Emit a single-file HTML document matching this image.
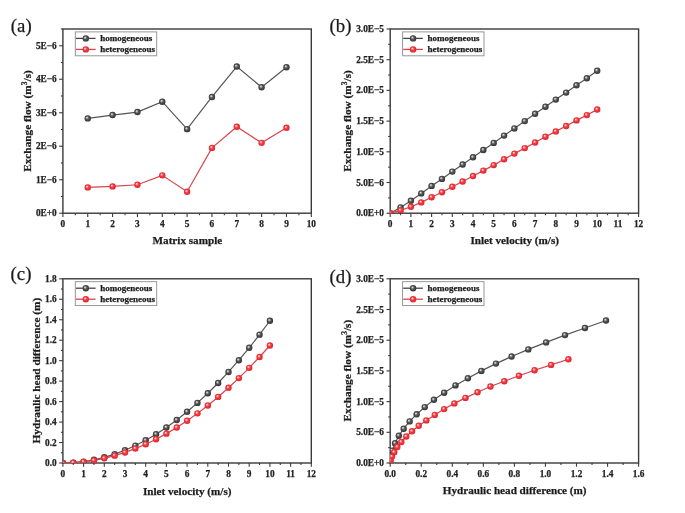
<!DOCTYPE html><html><head><meta charset="utf-8"><style>
html,body{margin:0;padding:0;background:#fff;}
svg{display:block;}
#w{width:685px;height:513px;will-change:transform;}
.tk{font-family:"Liberation Serif",serif;font-weight:bold;stroke:#222;stroke-width:0.25px;font-size:9.3px;fill:#222;}
.ti{font-family:"Liberation Serif",serif;font-weight:bold;stroke:#222;stroke-width:0.25px;font-size:11.15px;fill:#1a1a1a;}
.yti{font-family:"Liberation Serif",serif;font-weight:bold;stroke:#222;stroke-width:0.25px;font-size:11.3px;fill:#1a1a1a;}
.lg{font-family:"Liberation Serif",serif;font-weight:bold;stroke:#222;stroke-width:0.25px;font-size:9.0px;fill:#1a1a1a;}
.pl{font-family:"Liberation Serif",serif;stroke:#1a1a1a;stroke-width:0.25px;font-size:18.8px;fill:#1a1a1a;}
</style></head><body><div id="w">
<svg width="685" height="513" viewBox="0 0 685 513">
<rect width="685" height="513" fill="#fff"/>
<g>
<defs>
<radialGradient id="gk" cx="0.5" cy="0.5" r="0.55" fx="0.36" fy="0.34">
<stop offset="0" stop-color="#f0f0f0"/><stop offset="0.18" stop-color="#b8b8b8"/><stop offset="0.45" stop-color="#585858"/><stop offset="0.8" stop-color="#3c3c3c"/><stop offset="1" stop-color="#2e2e2e"/>
</radialGradient>
<radialGradient id="gr" cx="0.5" cy="0.5" r="0.55" fx="0.36" fy="0.34">
<stop offset="0" stop-color="#fff2ea"/><stop offset="0.18" stop-color="#ffaaa4"/><stop offset="0.45" stop-color="#f23c44"/><stop offset="0.8" stop-color="#e82a32"/><stop offset="1" stop-color="#d61f28"/>
</radialGradient>
</defs>
<defs>
<clipPath id="ca"><rect x="62.9" y="29" width="248.4" height="184.2"/></clipPath>
<clipPath id="cb"><rect x="390.2" y="29" width="248.4" height="184.2"/></clipPath>
<clipPath id="cc"><rect x="62.9" y="278.8" width="248.4" height="184.2"/></clipPath>
<clipPath id="cd"><rect x="390.2" y="278.8" width="248.4" height="184.2"/></clipPath>
</defs>
<line x1="62.9" y1="213.2" x2="62.9" y2="216.9" stroke="#3a3a3a" stroke-width="1.1"/>
<line x1="87.74" y1="213.2" x2="87.74" y2="216.9" stroke="#3a3a3a" stroke-width="1.1"/>
<line x1="112.58" y1="213.2" x2="112.58" y2="216.9" stroke="#3a3a3a" stroke-width="1.1"/>
<line x1="137.42" y1="213.2" x2="137.42" y2="216.9" stroke="#3a3a3a" stroke-width="1.1"/>
<line x1="162.26" y1="213.2" x2="162.26" y2="216.9" stroke="#3a3a3a" stroke-width="1.1"/>
<line x1="187.1" y1="213.2" x2="187.1" y2="216.9" stroke="#3a3a3a" stroke-width="1.1"/>
<line x1="211.94" y1="213.2" x2="211.94" y2="216.9" stroke="#3a3a3a" stroke-width="1.1"/>
<line x1="236.78" y1="213.2" x2="236.78" y2="216.9" stroke="#3a3a3a" stroke-width="1.1"/>
<line x1="261.62" y1="213.2" x2="261.62" y2="216.9" stroke="#3a3a3a" stroke-width="1.1"/>
<line x1="286.46" y1="213.2" x2="286.46" y2="216.9" stroke="#3a3a3a" stroke-width="1.1"/>
<line x1="311.3" y1="213.2" x2="311.3" y2="216.9" stroke="#3a3a3a" stroke-width="1.1"/>
<line x1="75.32" y1="213.2" x2="75.32" y2="215.2" stroke="#3a3a3a" stroke-width="1.1"/>
<line x1="100.16" y1="213.2" x2="100.16" y2="215.2" stroke="#3a3a3a" stroke-width="1.1"/>
<line x1="125" y1="213.2" x2="125" y2="215.2" stroke="#3a3a3a" stroke-width="1.1"/>
<line x1="149.84" y1="213.2" x2="149.84" y2="215.2" stroke="#3a3a3a" stroke-width="1.1"/>
<line x1="174.68" y1="213.2" x2="174.68" y2="215.2" stroke="#3a3a3a" stroke-width="1.1"/>
<line x1="199.52" y1="213.2" x2="199.52" y2="215.2" stroke="#3a3a3a" stroke-width="1.1"/>
<line x1="224.36" y1="213.2" x2="224.36" y2="215.2" stroke="#3a3a3a" stroke-width="1.1"/>
<line x1="249.2" y1="213.2" x2="249.2" y2="215.2" stroke="#3a3a3a" stroke-width="1.1"/>
<line x1="274.04" y1="213.2" x2="274.04" y2="215.2" stroke="#3a3a3a" stroke-width="1.1"/>
<line x1="298.88" y1="213.2" x2="298.88" y2="215.2" stroke="#3a3a3a" stroke-width="1.1"/>
<line x1="59.2" y1="213.2" x2="62.9" y2="213.2" stroke="#3a3a3a" stroke-width="1.1"/>
<line x1="59.2" y1="179.71" x2="62.9" y2="179.71" stroke="#3a3a3a" stroke-width="1.1"/>
<line x1="59.2" y1="146.22" x2="62.9" y2="146.22" stroke="#3a3a3a" stroke-width="1.1"/>
<line x1="59.2" y1="112.73" x2="62.9" y2="112.73" stroke="#3a3a3a" stroke-width="1.1"/>
<line x1="59.2" y1="79.24" x2="62.9" y2="79.24" stroke="#3a3a3a" stroke-width="1.1"/>
<line x1="59.2" y1="45.75" x2="62.9" y2="45.75" stroke="#3a3a3a" stroke-width="1.1"/>
<line x1="60.9" y1="196.45" x2="62.9" y2="196.45" stroke="#3a3a3a" stroke-width="1.1"/>
<line x1="60.9" y1="162.96" x2="62.9" y2="162.96" stroke="#3a3a3a" stroke-width="1.1"/>
<line x1="60.9" y1="129.47" x2="62.9" y2="129.47" stroke="#3a3a3a" stroke-width="1.1"/>
<line x1="60.9" y1="95.98" x2="62.9" y2="95.98" stroke="#3a3a3a" stroke-width="1.1"/>
<line x1="60.9" y1="62.49" x2="62.9" y2="62.49" stroke="#3a3a3a" stroke-width="1.1"/>
<line x1="60.9" y1="29" x2="62.9" y2="29" stroke="#3a3a3a" stroke-width="1.1"/>
<rect x="62.9" y="29" width="248.4" height="184.2" fill="none" stroke="#3a3a3a" stroke-width="1.4"/>
<text x="62.9" y="227.04" class="tk" text-anchor="middle">0</text>
<text x="87.74" y="227.04" class="tk" text-anchor="middle">1</text>
<text x="112.58" y="227.04" class="tk" text-anchor="middle">2</text>
<text x="137.42" y="227.04" class="tk" text-anchor="middle">3</text>
<text x="162.26" y="227.04" class="tk" text-anchor="middle">4</text>
<text x="187.1" y="227.04" class="tk" text-anchor="middle">5</text>
<text x="211.94" y="227.04" class="tk" text-anchor="middle">6</text>
<text x="236.78" y="227.04" class="tk" text-anchor="middle">7</text>
<text x="261.62" y="227.04" class="tk" text-anchor="middle">8</text>
<text x="286.46" y="227.04" class="tk" text-anchor="middle">9</text>
<text x="311.3" y="227.04" class="tk" text-anchor="middle">10</text>
<text x="56.7" y="216.27" class="tk" text-anchor="end">0E+0</text>
<text x="56.7" y="182.78" class="tk" text-anchor="end">1E−6</text>
<text x="56.7" y="149.29" class="tk" text-anchor="end">2E−6</text>
<text x="56.7" y="115.8" class="tk" text-anchor="end">3E−6</text>
<text x="56.7" y="82.31" class="tk" text-anchor="end">4E−6</text>
<text x="56.7" y="48.81" class="tk" text-anchor="end">5E−6</text>
<g clip-path="url(#ca)">
<path d="M87.74,118.42 L112.58,115.07 L137.42,112.06 L162.26,101.68 L187.1,129.14 L211.94,96.99 L236.78,66.51 L261.62,87.27 L286.46,67.18" fill="none" stroke="#555" stroke-width="1.2"/>
<circle cx="87.74" cy="118.42" r="3.2" fill="url(#gk)"/>
<circle cx="112.58" cy="115.07" r="3.2" fill="url(#gk)"/>
<circle cx="137.42" cy="112.06" r="3.2" fill="url(#gk)"/>
<circle cx="162.26" cy="101.68" r="3.2" fill="url(#gk)"/>
<circle cx="187.1" cy="129.14" r="3.2" fill="url(#gk)"/>
<circle cx="211.94" cy="96.99" r="3.2" fill="url(#gk)"/>
<circle cx="236.78" cy="66.51" r="3.2" fill="url(#gk)"/>
<circle cx="261.62" cy="87.27" r="3.2" fill="url(#gk)"/>
<circle cx="286.46" cy="67.18" r="3.2" fill="url(#gk)"/>
</g>
<g clip-path="url(#ca)">
<path d="M87.74,187.41 L112.58,186.41 L137.42,184.73 L162.26,175.36 L187.1,191.77 L211.94,147.89 L236.78,126.79 L261.62,142.87 L286.46,127.8" fill="none" stroke="#d8434b" stroke-width="1.2"/>
<circle cx="87.74" cy="187.41" r="3.2" fill="url(#gr)"/>
<circle cx="112.58" cy="186.41" r="3.2" fill="url(#gr)"/>
<circle cx="137.42" cy="184.73" r="3.2" fill="url(#gr)"/>
<circle cx="162.26" cy="175.36" r="3.2" fill="url(#gr)"/>
<circle cx="187.1" cy="191.77" r="3.2" fill="url(#gr)"/>
<circle cx="211.94" cy="147.89" r="3.2" fill="url(#gr)"/>
<circle cx="236.78" cy="126.79" r="3.2" fill="url(#gr)"/>
<circle cx="261.62" cy="142.87" r="3.2" fill="url(#gr)"/>
<circle cx="286.46" cy="127.8" r="3.2" fill="url(#gr)"/>
</g>
<rect x="75.3" y="31.9" width="81.4" height="23.9" fill="#fff" stroke="#8c8c8c" stroke-width="0.9"/>
<line x1="75.9" y1="38.4" x2="95.6" y2="38.4" stroke="#444" stroke-width="1.3"/>
<circle cx="85.8" cy="38.4" r="3.2" fill="url(#gk)"/>
<text x="100.2" y="41" class="lg">homogeneous</text>
<line x1="75.9" y1="49.4" x2="95.6" y2="49.4" stroke="#d8434b" stroke-width="1.3"/>
<circle cx="85.8" cy="49.4" r="3.2" fill="url(#gr)"/>
<text x="100.2" y="52" class="lg">heterogeneous</text>
<line x1="390.2" y1="213.2" x2="390.2" y2="216.9" stroke="#3a3a3a" stroke-width="1.1"/>
<line x1="410.9" y1="213.2" x2="410.9" y2="216.9" stroke="#3a3a3a" stroke-width="1.1"/>
<line x1="431.6" y1="213.2" x2="431.6" y2="216.9" stroke="#3a3a3a" stroke-width="1.1"/>
<line x1="452.3" y1="213.2" x2="452.3" y2="216.9" stroke="#3a3a3a" stroke-width="1.1"/>
<line x1="473" y1="213.2" x2="473" y2="216.9" stroke="#3a3a3a" stroke-width="1.1"/>
<line x1="493.7" y1="213.2" x2="493.7" y2="216.9" stroke="#3a3a3a" stroke-width="1.1"/>
<line x1="514.4" y1="213.2" x2="514.4" y2="216.9" stroke="#3a3a3a" stroke-width="1.1"/>
<line x1="535.1" y1="213.2" x2="535.1" y2="216.9" stroke="#3a3a3a" stroke-width="1.1"/>
<line x1="555.8" y1="213.2" x2="555.8" y2="216.9" stroke="#3a3a3a" stroke-width="1.1"/>
<line x1="576.5" y1="213.2" x2="576.5" y2="216.9" stroke="#3a3a3a" stroke-width="1.1"/>
<line x1="597.2" y1="213.2" x2="597.2" y2="216.9" stroke="#3a3a3a" stroke-width="1.1"/>
<line x1="617.9" y1="213.2" x2="617.9" y2="216.9" stroke="#3a3a3a" stroke-width="1.1"/>
<line x1="638.6" y1="213.2" x2="638.6" y2="216.9" stroke="#3a3a3a" stroke-width="1.1"/>
<line x1="400.55" y1="213.2" x2="400.55" y2="215.2" stroke="#3a3a3a" stroke-width="1.1"/>
<line x1="421.25" y1="213.2" x2="421.25" y2="215.2" stroke="#3a3a3a" stroke-width="1.1"/>
<line x1="441.95" y1="213.2" x2="441.95" y2="215.2" stroke="#3a3a3a" stroke-width="1.1"/>
<line x1="462.65" y1="213.2" x2="462.65" y2="215.2" stroke="#3a3a3a" stroke-width="1.1"/>
<line x1="483.35" y1="213.2" x2="483.35" y2="215.2" stroke="#3a3a3a" stroke-width="1.1"/>
<line x1="504.05" y1="213.2" x2="504.05" y2="215.2" stroke="#3a3a3a" stroke-width="1.1"/>
<line x1="524.75" y1="213.2" x2="524.75" y2="215.2" stroke="#3a3a3a" stroke-width="1.1"/>
<line x1="545.45" y1="213.2" x2="545.45" y2="215.2" stroke="#3a3a3a" stroke-width="1.1"/>
<line x1="566.15" y1="213.2" x2="566.15" y2="215.2" stroke="#3a3a3a" stroke-width="1.1"/>
<line x1="586.85" y1="213.2" x2="586.85" y2="215.2" stroke="#3a3a3a" stroke-width="1.1"/>
<line x1="607.55" y1="213.2" x2="607.55" y2="215.2" stroke="#3a3a3a" stroke-width="1.1"/>
<line x1="628.25" y1="213.2" x2="628.25" y2="215.2" stroke="#3a3a3a" stroke-width="1.1"/>
<line x1="386.5" y1="213.2" x2="390.2" y2="213.2" stroke="#3a3a3a" stroke-width="1.1"/>
<line x1="386.5" y1="182.5" x2="390.2" y2="182.5" stroke="#3a3a3a" stroke-width="1.1"/>
<line x1="386.5" y1="151.8" x2="390.2" y2="151.8" stroke="#3a3a3a" stroke-width="1.1"/>
<line x1="386.5" y1="121.1" x2="390.2" y2="121.1" stroke="#3a3a3a" stroke-width="1.1"/>
<line x1="386.5" y1="90.4" x2="390.2" y2="90.4" stroke="#3a3a3a" stroke-width="1.1"/>
<line x1="386.5" y1="59.7" x2="390.2" y2="59.7" stroke="#3a3a3a" stroke-width="1.1"/>
<line x1="386.5" y1="29" x2="390.2" y2="29" stroke="#3a3a3a" stroke-width="1.1"/>
<line x1="388.2" y1="197.85" x2="390.2" y2="197.85" stroke="#3a3a3a" stroke-width="1.1"/>
<line x1="388.2" y1="167.15" x2="390.2" y2="167.15" stroke="#3a3a3a" stroke-width="1.1"/>
<line x1="388.2" y1="136.45" x2="390.2" y2="136.45" stroke="#3a3a3a" stroke-width="1.1"/>
<line x1="388.2" y1="105.75" x2="390.2" y2="105.75" stroke="#3a3a3a" stroke-width="1.1"/>
<line x1="388.2" y1="75.05" x2="390.2" y2="75.05" stroke="#3a3a3a" stroke-width="1.1"/>
<line x1="388.2" y1="44.35" x2="390.2" y2="44.35" stroke="#3a3a3a" stroke-width="1.1"/>
<rect x="390.2" y="29" width="248.4" height="184.2" fill="none" stroke="#3a3a3a" stroke-width="1.4"/>
<text x="390.2" y="227.04" class="tk" text-anchor="middle">0</text>
<text x="410.9" y="227.04" class="tk" text-anchor="middle">1</text>
<text x="431.6" y="227.04" class="tk" text-anchor="middle">2</text>
<text x="452.3" y="227.04" class="tk" text-anchor="middle">3</text>
<text x="473" y="227.04" class="tk" text-anchor="middle">4</text>
<text x="493.7" y="227.04" class="tk" text-anchor="middle">5</text>
<text x="514.4" y="227.04" class="tk" text-anchor="middle">6</text>
<text x="535.1" y="227.04" class="tk" text-anchor="middle">7</text>
<text x="555.8" y="227.04" class="tk" text-anchor="middle">8</text>
<text x="576.5" y="227.04" class="tk" text-anchor="middle">9</text>
<text x="597.2" y="227.04" class="tk" text-anchor="middle">10</text>
<text x="617.9" y="227.04" class="tk" text-anchor="middle">11</text>
<text x="638.6" y="227.04" class="tk" text-anchor="middle">12</text>
<text x="384" y="216.27" class="tk" text-anchor="end">0.0E+0</text>
<text x="384" y="185.57" class="tk" text-anchor="end">5.0E−6</text>
<text x="384" y="154.87" class="tk" text-anchor="end">1.0E−5</text>
<text x="384" y="124.17" class="tk" text-anchor="end">1.5E−5</text>
<text x="384" y="93.47" class="tk" text-anchor="end">2.0E−5</text>
<text x="384" y="62.77" class="tk" text-anchor="end">2.5E−5</text>
<text x="384" y="32.07" class="tk" text-anchor="end">3.0E−5</text>
<g clip-path="url(#cb)">
<path d="M390.2,213.2 L400.55,207.4 L410.9,200.8 L421.25,193.4 L431.6,185.9 L441.95,178.9 L452.3,171.6 L462.65,164.5 L473,157.3 L483.35,150 L493.7,142.9 L504.05,135.6 L514.4,128.4 L524.75,121.1 L535.1,113.8 L545.45,106.7 L555.8,99.6 L566.15,92.6 L576.5,85.3 L586.85,78.2 L597.2,70.7" fill="none" stroke="#555" stroke-width="1.2"/>
<circle cx="390.2" cy="213.2" r="3.2" fill="url(#gk)"/>
<circle cx="400.55" cy="207.4" r="3.2" fill="url(#gk)"/>
<circle cx="410.9" cy="200.8" r="3.2" fill="url(#gk)"/>
<circle cx="421.25" cy="193.4" r="3.2" fill="url(#gk)"/>
<circle cx="431.6" cy="185.9" r="3.2" fill="url(#gk)"/>
<circle cx="441.95" cy="178.9" r="3.2" fill="url(#gk)"/>
<circle cx="452.3" cy="171.6" r="3.2" fill="url(#gk)"/>
<circle cx="462.65" cy="164.5" r="3.2" fill="url(#gk)"/>
<circle cx="473" cy="157.3" r="3.2" fill="url(#gk)"/>
<circle cx="483.35" cy="150" r="3.2" fill="url(#gk)"/>
<circle cx="493.7" cy="142.9" r="3.2" fill="url(#gk)"/>
<circle cx="504.05" cy="135.6" r="3.2" fill="url(#gk)"/>
<circle cx="514.4" cy="128.4" r="3.2" fill="url(#gk)"/>
<circle cx="524.75" cy="121.1" r="3.2" fill="url(#gk)"/>
<circle cx="535.1" cy="113.8" r="3.2" fill="url(#gk)"/>
<circle cx="545.45" cy="106.7" r="3.2" fill="url(#gk)"/>
<circle cx="555.8" cy="99.6" r="3.2" fill="url(#gk)"/>
<circle cx="566.15" cy="92.6" r="3.2" fill="url(#gk)"/>
<circle cx="576.5" cy="85.3" r="3.2" fill="url(#gk)"/>
<circle cx="586.85" cy="78.2" r="3.2" fill="url(#gk)"/>
<circle cx="597.2" cy="70.7" r="3.2" fill="url(#gk)"/>
</g>
<g clip-path="url(#cb)">
<path d="M390.2,213.2 L400.55,210.4 L410.9,206.8 L421.25,202.4 L431.6,197.2 L441.95,192.2 L452.3,186.7 L462.65,181.5 L473,176 L483.35,170.6 L493.7,165.1 L504.05,159.3 L514.4,153.6 L524.75,148.1 L535.1,142.5 L545.45,136.7 L555.8,131.4 L566.15,126 L576.5,120.4 L586.85,115.1 L597.2,109.5" fill="none" stroke="#d8434b" stroke-width="1.2"/>
<circle cx="390.2" cy="213.2" r="3.2" fill="url(#gr)"/>
<circle cx="400.55" cy="210.4" r="3.2" fill="url(#gr)"/>
<circle cx="410.9" cy="206.8" r="3.2" fill="url(#gr)"/>
<circle cx="421.25" cy="202.4" r="3.2" fill="url(#gr)"/>
<circle cx="431.6" cy="197.2" r="3.2" fill="url(#gr)"/>
<circle cx="441.95" cy="192.2" r="3.2" fill="url(#gr)"/>
<circle cx="452.3" cy="186.7" r="3.2" fill="url(#gr)"/>
<circle cx="462.65" cy="181.5" r="3.2" fill="url(#gr)"/>
<circle cx="473" cy="176" r="3.2" fill="url(#gr)"/>
<circle cx="483.35" cy="170.6" r="3.2" fill="url(#gr)"/>
<circle cx="493.7" cy="165.1" r="3.2" fill="url(#gr)"/>
<circle cx="504.05" cy="159.3" r="3.2" fill="url(#gr)"/>
<circle cx="514.4" cy="153.6" r="3.2" fill="url(#gr)"/>
<circle cx="524.75" cy="148.1" r="3.2" fill="url(#gr)"/>
<circle cx="535.1" cy="142.5" r="3.2" fill="url(#gr)"/>
<circle cx="545.45" cy="136.7" r="3.2" fill="url(#gr)"/>
<circle cx="555.8" cy="131.4" r="3.2" fill="url(#gr)"/>
<circle cx="566.15" cy="126" r="3.2" fill="url(#gr)"/>
<circle cx="576.5" cy="120.4" r="3.2" fill="url(#gr)"/>
<circle cx="586.85" cy="115.1" r="3.2" fill="url(#gr)"/>
<circle cx="597.2" cy="109.5" r="3.2" fill="url(#gr)"/>
</g>
<rect x="402.6" y="31.9" width="81.4" height="23.9" fill="#fff" stroke="#8c8c8c" stroke-width="0.9"/>
<line x1="403.2" y1="38.4" x2="422.9" y2="38.4" stroke="#444" stroke-width="1.3"/>
<circle cx="413.1" cy="38.4" r="3.2" fill="url(#gk)"/>
<text x="427.5" y="41" class="lg">homogeneous</text>
<line x1="403.2" y1="49.4" x2="422.9" y2="49.4" stroke="#d8434b" stroke-width="1.3"/>
<circle cx="413.1" cy="49.4" r="3.2" fill="url(#gr)"/>
<text x="427.5" y="52" class="lg">heterogeneous</text>
<line x1="62.9" y1="463" x2="62.9" y2="466.7" stroke="#3a3a3a" stroke-width="1.1"/>
<line x1="83.6" y1="463" x2="83.6" y2="466.7" stroke="#3a3a3a" stroke-width="1.1"/>
<line x1="104.3" y1="463" x2="104.3" y2="466.7" stroke="#3a3a3a" stroke-width="1.1"/>
<line x1="125" y1="463" x2="125" y2="466.7" stroke="#3a3a3a" stroke-width="1.1"/>
<line x1="145.7" y1="463" x2="145.7" y2="466.7" stroke="#3a3a3a" stroke-width="1.1"/>
<line x1="166.4" y1="463" x2="166.4" y2="466.7" stroke="#3a3a3a" stroke-width="1.1"/>
<line x1="187.1" y1="463" x2="187.1" y2="466.7" stroke="#3a3a3a" stroke-width="1.1"/>
<line x1="207.8" y1="463" x2="207.8" y2="466.7" stroke="#3a3a3a" stroke-width="1.1"/>
<line x1="228.5" y1="463" x2="228.5" y2="466.7" stroke="#3a3a3a" stroke-width="1.1"/>
<line x1="249.2" y1="463" x2="249.2" y2="466.7" stroke="#3a3a3a" stroke-width="1.1"/>
<line x1="269.9" y1="463" x2="269.9" y2="466.7" stroke="#3a3a3a" stroke-width="1.1"/>
<line x1="290.6" y1="463" x2="290.6" y2="466.7" stroke="#3a3a3a" stroke-width="1.1"/>
<line x1="311.3" y1="463" x2="311.3" y2="466.7" stroke="#3a3a3a" stroke-width="1.1"/>
<line x1="73.25" y1="463" x2="73.25" y2="465" stroke="#3a3a3a" stroke-width="1.1"/>
<line x1="93.95" y1="463" x2="93.95" y2="465" stroke="#3a3a3a" stroke-width="1.1"/>
<line x1="114.65" y1="463" x2="114.65" y2="465" stroke="#3a3a3a" stroke-width="1.1"/>
<line x1="135.35" y1="463" x2="135.35" y2="465" stroke="#3a3a3a" stroke-width="1.1"/>
<line x1="156.05" y1="463" x2="156.05" y2="465" stroke="#3a3a3a" stroke-width="1.1"/>
<line x1="176.75" y1="463" x2="176.75" y2="465" stroke="#3a3a3a" stroke-width="1.1"/>
<line x1="197.45" y1="463" x2="197.45" y2="465" stroke="#3a3a3a" stroke-width="1.1"/>
<line x1="218.15" y1="463" x2="218.15" y2="465" stroke="#3a3a3a" stroke-width="1.1"/>
<line x1="238.85" y1="463" x2="238.85" y2="465" stroke="#3a3a3a" stroke-width="1.1"/>
<line x1="259.55" y1="463" x2="259.55" y2="465" stroke="#3a3a3a" stroke-width="1.1"/>
<line x1="280.25" y1="463" x2="280.25" y2="465" stroke="#3a3a3a" stroke-width="1.1"/>
<line x1="300.95" y1="463" x2="300.95" y2="465" stroke="#3a3a3a" stroke-width="1.1"/>
<line x1="59.2" y1="463" x2="62.9" y2="463" stroke="#3a3a3a" stroke-width="1.1"/>
<line x1="59.2" y1="442.53" x2="62.9" y2="442.53" stroke="#3a3a3a" stroke-width="1.1"/>
<line x1="59.2" y1="422.07" x2="62.9" y2="422.07" stroke="#3a3a3a" stroke-width="1.1"/>
<line x1="59.2" y1="401.6" x2="62.9" y2="401.6" stroke="#3a3a3a" stroke-width="1.1"/>
<line x1="59.2" y1="381.13" x2="62.9" y2="381.13" stroke="#3a3a3a" stroke-width="1.1"/>
<line x1="59.2" y1="360.67" x2="62.9" y2="360.67" stroke="#3a3a3a" stroke-width="1.1"/>
<line x1="59.2" y1="340.2" x2="62.9" y2="340.2" stroke="#3a3a3a" stroke-width="1.1"/>
<line x1="59.2" y1="319.73" x2="62.9" y2="319.73" stroke="#3a3a3a" stroke-width="1.1"/>
<line x1="59.2" y1="299.27" x2="62.9" y2="299.27" stroke="#3a3a3a" stroke-width="1.1"/>
<line x1="59.2" y1="278.8" x2="62.9" y2="278.8" stroke="#3a3a3a" stroke-width="1.1"/>
<line x1="60.9" y1="452.77" x2="62.9" y2="452.77" stroke="#3a3a3a" stroke-width="1.1"/>
<line x1="60.9" y1="432.3" x2="62.9" y2="432.3" stroke="#3a3a3a" stroke-width="1.1"/>
<line x1="60.9" y1="411.83" x2="62.9" y2="411.83" stroke="#3a3a3a" stroke-width="1.1"/>
<line x1="60.9" y1="391.37" x2="62.9" y2="391.37" stroke="#3a3a3a" stroke-width="1.1"/>
<line x1="60.9" y1="370.9" x2="62.9" y2="370.9" stroke="#3a3a3a" stroke-width="1.1"/>
<line x1="60.9" y1="350.43" x2="62.9" y2="350.43" stroke="#3a3a3a" stroke-width="1.1"/>
<line x1="60.9" y1="329.97" x2="62.9" y2="329.97" stroke="#3a3a3a" stroke-width="1.1"/>
<line x1="60.9" y1="309.5" x2="62.9" y2="309.5" stroke="#3a3a3a" stroke-width="1.1"/>
<line x1="60.9" y1="289.03" x2="62.9" y2="289.03" stroke="#3a3a3a" stroke-width="1.1"/>
<rect x="62.9" y="278.8" width="248.4" height="184.2" fill="none" stroke="#3a3a3a" stroke-width="1.4"/>
<text x="62.9" y="476.84" class="tk" text-anchor="middle">0</text>
<text x="83.6" y="476.84" class="tk" text-anchor="middle">1</text>
<text x="104.3" y="476.84" class="tk" text-anchor="middle">2</text>
<text x="125" y="476.84" class="tk" text-anchor="middle">3</text>
<text x="145.7" y="476.84" class="tk" text-anchor="middle">4</text>
<text x="166.4" y="476.84" class="tk" text-anchor="middle">5</text>
<text x="187.1" y="476.84" class="tk" text-anchor="middle">6</text>
<text x="207.8" y="476.84" class="tk" text-anchor="middle">7</text>
<text x="228.5" y="476.84" class="tk" text-anchor="middle">8</text>
<text x="249.2" y="476.84" class="tk" text-anchor="middle">9</text>
<text x="269.9" y="476.84" class="tk" text-anchor="middle">10</text>
<text x="290.6" y="476.84" class="tk" text-anchor="middle">11</text>
<text x="311.3" y="476.84" class="tk" text-anchor="middle">12</text>
<text x="56.7" y="466.07" class="tk" text-anchor="end">0.0</text>
<text x="56.7" y="445.6" class="tk" text-anchor="end">0.2</text>
<text x="56.7" y="425.14" class="tk" text-anchor="end">0.4</text>
<text x="56.7" y="404.67" class="tk" text-anchor="end">0.6</text>
<text x="56.7" y="384.2" class="tk" text-anchor="end">0.8</text>
<text x="56.7" y="363.74" class="tk" text-anchor="end">1.0</text>
<text x="56.7" y="343.27" class="tk" text-anchor="end">1.2</text>
<text x="56.7" y="322.8" class="tk" text-anchor="end">1.4</text>
<text x="56.7" y="302.34" class="tk" text-anchor="end">1.6</text>
<text x="56.7" y="281.87" class="tk" text-anchor="end">1.8</text>
<g clip-path="url(#cc)">
<path d="M62.9,463 L73.25,462.64 L83.6,461.58 L93.95,459.8 L104.3,457.31 L114.65,454.11 L125,450.2 L135.35,445.58 L145.7,440.24 L156.05,434.2 L166.4,427.44 L176.75,419.97 L187.1,411.79 L197.45,402.9 L207.8,393.3 L218.15,382.99 L228.5,371.96 L238.85,360.23 L249.2,347.78 L259.55,334.63 L269.9,320.76" fill="none" stroke="#555" stroke-width="1.2"/>
<circle cx="62.9" cy="463" r="3.2" fill="url(#gk)"/>
<circle cx="73.25" cy="462.64" r="3.2" fill="url(#gk)"/>
<circle cx="83.6" cy="461.58" r="3.2" fill="url(#gk)"/>
<circle cx="93.95" cy="459.8" r="3.2" fill="url(#gk)"/>
<circle cx="104.3" cy="457.31" r="3.2" fill="url(#gk)"/>
<circle cx="114.65" cy="454.11" r="3.2" fill="url(#gk)"/>
<circle cx="125" cy="450.2" r="3.2" fill="url(#gk)"/>
<circle cx="135.35" cy="445.58" r="3.2" fill="url(#gk)"/>
<circle cx="145.7" cy="440.24" r="3.2" fill="url(#gk)"/>
<circle cx="156.05" cy="434.2" r="3.2" fill="url(#gk)"/>
<circle cx="166.4" cy="427.44" r="3.2" fill="url(#gk)"/>
<circle cx="176.75" cy="419.97" r="3.2" fill="url(#gk)"/>
<circle cx="187.1" cy="411.79" r="3.2" fill="url(#gk)"/>
<circle cx="197.45" cy="402.9" r="3.2" fill="url(#gk)"/>
<circle cx="207.8" cy="393.3" r="3.2" fill="url(#gk)"/>
<circle cx="218.15" cy="382.99" r="3.2" fill="url(#gk)"/>
<circle cx="228.5" cy="371.96" r="3.2" fill="url(#gk)"/>
<circle cx="238.85" cy="360.23" r="3.2" fill="url(#gk)"/>
<circle cx="249.2" cy="347.78" r="3.2" fill="url(#gk)"/>
<circle cx="259.55" cy="334.63" r="3.2" fill="url(#gk)"/>
<circle cx="269.9" cy="320.76" r="3.2" fill="url(#gk)"/>
</g>
<g clip-path="url(#cc)">
<path d="M62.9,463 L73.25,462.71 L83.6,461.83 L93.95,460.36 L104.3,458.3 L114.65,455.66 L125,452.43 L135.35,448.61 L145.7,444.2 L156.05,439.21 L166.4,433.63 L176.75,427.46 L187.1,420.71 L197.45,413.37 L207.8,405.44 L218.15,396.92 L228.5,387.81 L238.85,378.12 L249.2,367.84 L259.55,356.98 L269.9,345.52" fill="none" stroke="#d8434b" stroke-width="1.2"/>
<circle cx="62.9" cy="463" r="3.2" fill="url(#gr)"/>
<circle cx="73.25" cy="462.71" r="3.2" fill="url(#gr)"/>
<circle cx="83.6" cy="461.83" r="3.2" fill="url(#gr)"/>
<circle cx="93.95" cy="460.36" r="3.2" fill="url(#gr)"/>
<circle cx="104.3" cy="458.3" r="3.2" fill="url(#gr)"/>
<circle cx="114.65" cy="455.66" r="3.2" fill="url(#gr)"/>
<circle cx="125" cy="452.43" r="3.2" fill="url(#gr)"/>
<circle cx="135.35" cy="448.61" r="3.2" fill="url(#gr)"/>
<circle cx="145.7" cy="444.2" r="3.2" fill="url(#gr)"/>
<circle cx="156.05" cy="439.21" r="3.2" fill="url(#gr)"/>
<circle cx="166.4" cy="433.63" r="3.2" fill="url(#gr)"/>
<circle cx="176.75" cy="427.46" r="3.2" fill="url(#gr)"/>
<circle cx="187.1" cy="420.71" r="3.2" fill="url(#gr)"/>
<circle cx="197.45" cy="413.37" r="3.2" fill="url(#gr)"/>
<circle cx="207.8" cy="405.44" r="3.2" fill="url(#gr)"/>
<circle cx="218.15" cy="396.92" r="3.2" fill="url(#gr)"/>
<circle cx="228.5" cy="387.81" r="3.2" fill="url(#gr)"/>
<circle cx="238.85" cy="378.12" r="3.2" fill="url(#gr)"/>
<circle cx="249.2" cy="367.84" r="3.2" fill="url(#gr)"/>
<circle cx="259.55" cy="356.98" r="3.2" fill="url(#gr)"/>
<circle cx="269.9" cy="345.52" r="3.2" fill="url(#gr)"/>
</g>
<rect x="75.3" y="281.7" width="81.4" height="23.9" fill="#fff" stroke="#8c8c8c" stroke-width="0.9"/>
<line x1="75.9" y1="288.2" x2="95.6" y2="288.2" stroke="#444" stroke-width="1.3"/>
<circle cx="85.8" cy="288.2" r="3.2" fill="url(#gk)"/>
<text x="100.2" y="290.8" class="lg">homogeneous</text>
<line x1="75.9" y1="299.2" x2="95.6" y2="299.2" stroke="#d8434b" stroke-width="1.3"/>
<circle cx="85.8" cy="299.2" r="3.2" fill="url(#gr)"/>
<text x="100.2" y="301.8" class="lg">heterogeneous</text>
<line x1="390.2" y1="463" x2="390.2" y2="466.7" stroke="#3a3a3a" stroke-width="1.1"/>
<line x1="421.25" y1="463" x2="421.25" y2="466.7" stroke="#3a3a3a" stroke-width="1.1"/>
<line x1="452.3" y1="463" x2="452.3" y2="466.7" stroke="#3a3a3a" stroke-width="1.1"/>
<line x1="483.35" y1="463" x2="483.35" y2="466.7" stroke="#3a3a3a" stroke-width="1.1"/>
<line x1="514.4" y1="463" x2="514.4" y2="466.7" stroke="#3a3a3a" stroke-width="1.1"/>
<line x1="545.45" y1="463" x2="545.45" y2="466.7" stroke="#3a3a3a" stroke-width="1.1"/>
<line x1="576.5" y1="463" x2="576.5" y2="466.7" stroke="#3a3a3a" stroke-width="1.1"/>
<line x1="607.55" y1="463" x2="607.55" y2="466.7" stroke="#3a3a3a" stroke-width="1.1"/>
<line x1="638.6" y1="463" x2="638.6" y2="466.7" stroke="#3a3a3a" stroke-width="1.1"/>
<line x1="405.72" y1="463" x2="405.72" y2="465" stroke="#3a3a3a" stroke-width="1.1"/>
<line x1="436.77" y1="463" x2="436.77" y2="465" stroke="#3a3a3a" stroke-width="1.1"/>
<line x1="467.82" y1="463" x2="467.82" y2="465" stroke="#3a3a3a" stroke-width="1.1"/>
<line x1="498.88" y1="463" x2="498.88" y2="465" stroke="#3a3a3a" stroke-width="1.1"/>
<line x1="529.92" y1="463" x2="529.92" y2="465" stroke="#3a3a3a" stroke-width="1.1"/>
<line x1="560.98" y1="463" x2="560.98" y2="465" stroke="#3a3a3a" stroke-width="1.1"/>
<line x1="592.02" y1="463" x2="592.02" y2="465" stroke="#3a3a3a" stroke-width="1.1"/>
<line x1="623.08" y1="463" x2="623.08" y2="465" stroke="#3a3a3a" stroke-width="1.1"/>
<line x1="386.5" y1="463" x2="390.2" y2="463" stroke="#3a3a3a" stroke-width="1.1"/>
<line x1="386.5" y1="432.3" x2="390.2" y2="432.3" stroke="#3a3a3a" stroke-width="1.1"/>
<line x1="386.5" y1="401.6" x2="390.2" y2="401.6" stroke="#3a3a3a" stroke-width="1.1"/>
<line x1="386.5" y1="370.9" x2="390.2" y2="370.9" stroke="#3a3a3a" stroke-width="1.1"/>
<line x1="386.5" y1="340.2" x2="390.2" y2="340.2" stroke="#3a3a3a" stroke-width="1.1"/>
<line x1="386.5" y1="309.5" x2="390.2" y2="309.5" stroke="#3a3a3a" stroke-width="1.1"/>
<line x1="386.5" y1="278.8" x2="390.2" y2="278.8" stroke="#3a3a3a" stroke-width="1.1"/>
<line x1="388.2" y1="447.65" x2="390.2" y2="447.65" stroke="#3a3a3a" stroke-width="1.1"/>
<line x1="388.2" y1="416.95" x2="390.2" y2="416.95" stroke="#3a3a3a" stroke-width="1.1"/>
<line x1="388.2" y1="386.25" x2="390.2" y2="386.25" stroke="#3a3a3a" stroke-width="1.1"/>
<line x1="388.2" y1="355.55" x2="390.2" y2="355.55" stroke="#3a3a3a" stroke-width="1.1"/>
<line x1="388.2" y1="324.85" x2="390.2" y2="324.85" stroke="#3a3a3a" stroke-width="1.1"/>
<line x1="388.2" y1="294.15" x2="390.2" y2="294.15" stroke="#3a3a3a" stroke-width="1.1"/>
<rect x="390.2" y="278.8" width="248.4" height="184.2" fill="none" stroke="#3a3a3a" stroke-width="1.4"/>
<text x="390.2" y="476.84" class="tk" text-anchor="middle">0.0</text>
<text x="421.25" y="476.84" class="tk" text-anchor="middle">0.2</text>
<text x="452.3" y="476.84" class="tk" text-anchor="middle">0.4</text>
<text x="483.35" y="476.84" class="tk" text-anchor="middle">0.6</text>
<text x="514.4" y="476.84" class="tk" text-anchor="middle">0.8</text>
<text x="545.45" y="476.84" class="tk" text-anchor="middle">1.0</text>
<text x="576.5" y="476.84" class="tk" text-anchor="middle">1.2</text>
<text x="607.55" y="476.84" class="tk" text-anchor="middle">1.4</text>
<text x="638.6" y="476.84" class="tk" text-anchor="middle">1.6</text>
<text x="384" y="466.07" class="tk" text-anchor="end">0.0E+0</text>
<text x="384" y="435.37" class="tk" text-anchor="end">5.0E−6</text>
<text x="384" y="404.67" class="tk" text-anchor="end">1.0E−5</text>
<text x="384" y="373.97" class="tk" text-anchor="end">1.5E−5</text>
<text x="384" y="343.27" class="tk" text-anchor="end">2.0E−5</text>
<text x="384" y="312.57" class="tk" text-anchor="end">2.5E−5</text>
<text x="384" y="281.87" class="tk" text-anchor="end">3.0E−5</text>
<g clip-path="url(#cd)">
<path d="M390.2,463 L390.74,457.2 L392.36,450.6 L395.06,443.2 L398.83,435.7 L403.69,428.7 L409.62,421.4 L416.64,414.3 L424.73,407.1 L433.9,399.8 L444.15,392.7 L455.48,385.4 L467.89,378.2 L481.37,370.9 L495.94,363.6 L511.59,356.5 L528.31,349.4 L546.11,342.4 L565,335.1 L584.96,328 L606,320.5" fill="none" stroke="#555" stroke-width="1.2"/>
<circle cx="390.2" cy="463" r="3.2" fill="url(#gk)"/>
<circle cx="390.74" cy="457.2" r="3.2" fill="url(#gk)"/>
<circle cx="392.36" cy="450.6" r="3.2" fill="url(#gk)"/>
<circle cx="395.06" cy="443.2" r="3.2" fill="url(#gk)"/>
<circle cx="398.83" cy="435.7" r="3.2" fill="url(#gk)"/>
<circle cx="403.69" cy="428.7" r="3.2" fill="url(#gk)"/>
<circle cx="409.62" cy="421.4" r="3.2" fill="url(#gk)"/>
<circle cx="416.64" cy="414.3" r="3.2" fill="url(#gk)"/>
<circle cx="424.73" cy="407.1" r="3.2" fill="url(#gk)"/>
<circle cx="433.9" cy="399.8" r="3.2" fill="url(#gk)"/>
<circle cx="444.15" cy="392.7" r="3.2" fill="url(#gk)"/>
<circle cx="455.48" cy="385.4" r="3.2" fill="url(#gk)"/>
<circle cx="467.89" cy="378.2" r="3.2" fill="url(#gk)"/>
<circle cx="481.37" cy="370.9" r="3.2" fill="url(#gk)"/>
<circle cx="495.94" cy="363.6" r="3.2" fill="url(#gk)"/>
<circle cx="511.59" cy="356.5" r="3.2" fill="url(#gk)"/>
<circle cx="528.31" cy="349.4" r="3.2" fill="url(#gk)"/>
<circle cx="546.11" cy="342.4" r="3.2" fill="url(#gk)"/>
<circle cx="565" cy="335.1" r="3.2" fill="url(#gk)"/>
<circle cx="584.96" cy="328" r="3.2" fill="url(#gk)"/>
<circle cx="606" cy="320.5" r="3.2" fill="url(#gk)"/>
</g>
<g clip-path="url(#cd)">
<path d="M390.2,463 L390.65,460.2 L391.98,456.6 L394.21,452.2 L397.33,447 L401.34,442 L406.24,436.5 L412.03,431.3 L418.72,425.8 L426.29,420.4 L434.76,414.9 L444.11,409.1 L454.36,403.4 L465.5,397.9 L477.53,392.3 L490.45,386.5 L504.27,381.2 L518.97,375.8 L534.56,370.2 L551.05,364.9 L568.43,359.3" fill="none" stroke="#d8434b" stroke-width="1.2"/>
<circle cx="390.2" cy="463" r="3.2" fill="url(#gr)"/>
<circle cx="390.65" cy="460.2" r="3.2" fill="url(#gr)"/>
<circle cx="391.98" cy="456.6" r="3.2" fill="url(#gr)"/>
<circle cx="394.21" cy="452.2" r="3.2" fill="url(#gr)"/>
<circle cx="397.33" cy="447" r="3.2" fill="url(#gr)"/>
<circle cx="401.34" cy="442" r="3.2" fill="url(#gr)"/>
<circle cx="406.24" cy="436.5" r="3.2" fill="url(#gr)"/>
<circle cx="412.03" cy="431.3" r="3.2" fill="url(#gr)"/>
<circle cx="418.72" cy="425.8" r="3.2" fill="url(#gr)"/>
<circle cx="426.29" cy="420.4" r="3.2" fill="url(#gr)"/>
<circle cx="434.76" cy="414.9" r="3.2" fill="url(#gr)"/>
<circle cx="444.11" cy="409.1" r="3.2" fill="url(#gr)"/>
<circle cx="454.36" cy="403.4" r="3.2" fill="url(#gr)"/>
<circle cx="465.5" cy="397.9" r="3.2" fill="url(#gr)"/>
<circle cx="477.53" cy="392.3" r="3.2" fill="url(#gr)"/>
<circle cx="490.45" cy="386.5" r="3.2" fill="url(#gr)"/>
<circle cx="504.27" cy="381.2" r="3.2" fill="url(#gr)"/>
<circle cx="518.97" cy="375.8" r="3.2" fill="url(#gr)"/>
<circle cx="534.56" cy="370.2" r="3.2" fill="url(#gr)"/>
<circle cx="551.05" cy="364.9" r="3.2" fill="url(#gr)"/>
<circle cx="568.43" cy="359.3" r="3.2" fill="url(#gr)"/>
</g>
<rect x="402.6" y="281.7" width="81.4" height="23.9" fill="#fff" stroke="#8c8c8c" stroke-width="0.9"/>
<line x1="403.2" y1="288.2" x2="422.9" y2="288.2" stroke="#444" stroke-width="1.3"/>
<circle cx="413.1" cy="288.2" r="3.2" fill="url(#gk)"/>
<text x="427.5" y="290.8" class="lg">homogeneous</text>
<line x1="403.2" y1="299.2" x2="422.9" y2="299.2" stroke="#d8434b" stroke-width="1.3"/>
<circle cx="413.1" cy="299.2" r="3.2" fill="url(#gr)"/>
<text x="427.5" y="301.8" class="lg">heterogeneous</text>
<text transform="translate(31,121) rotate(-90)" class="yti" text-anchor="middle">Exchange flow (m<tspan dy="-4" font-size="7.5">3</tspan><tspan dy="4">/s)</tspan></text>
<text transform="translate(351.4,121) rotate(-90)" class="yti" text-anchor="middle">Exchange flow (m<tspan dy="-4" font-size="7.5">3</tspan><tspan dy="4">/s)</tspan></text>
<text transform="translate(40,370.6) rotate(-90)" class="yti" text-anchor="middle">Hydraulic head difference (m)</text>
<text transform="translate(351.4,370.6) rotate(-90)" class="yti" text-anchor="middle">Exchange flow (m<tspan dy="-4" font-size="7.5">3</tspan><tspan dy="4">/s)</tspan></text>
<text x="187.4" y="244.4" class="ti" text-anchor="middle">Matrix sample</text>
<text x="514.7" y="244.4" class="ti" text-anchor="middle">Inlet velocity (m/s)</text>
<text x="187.2" y="495.2" class="ti" text-anchor="middle">Inlet velocity (m/s)</text>
<text x="514.7" y="494" class="ti" text-anchor="middle">Hydraulic head difference (m)</text>
<text x="10.8" y="32.3" class="pl">(a)</text>
<text x="329.6" y="32.3" class="pl">(b)</text>
<text x="10.6" y="280.3" class="pl">(c)</text>
<text x="329.6" y="283.2" class="pl">(d)</text>
</g></svg></div></body></html>
